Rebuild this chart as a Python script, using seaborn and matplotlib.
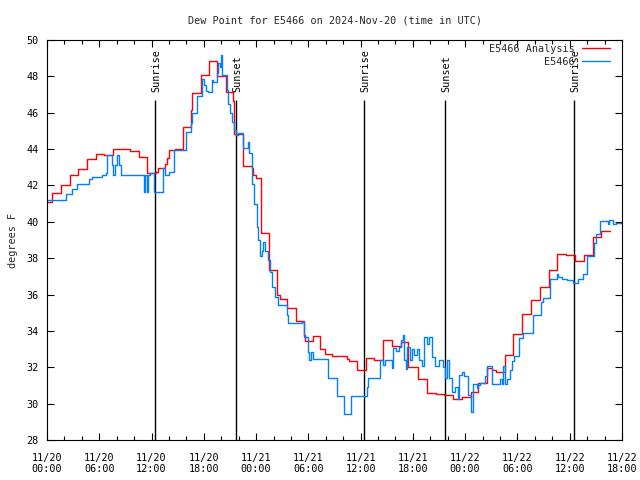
import pandas as pd
import numpy as np
import matplotlib
matplotlib.use("Agg")
from matplotlib import pyplot as plt
import matplotlib.dates as mdates
import seaborn as sb

"""DATA (hours after 2024-11-20 00:00 UTC, dew point in F)"""

analysis_hours = [0.0, 0.61, 1.64, 2.64, 3.59, 4.59, 5.62, 6.58, 7.54, 9.56, 10.56, 11.44,
                  12.55, 12.74, 13.51, 13.77, 14.0, 14.66, 15.58, 16.53, 16.68, 17.64, 18.6,
                  19.51, 20.51, 21.38, 21.52, 22.53, 23.5, 23.7, 23.95, 24.56, 25.52, 26.43,
                  26.75, 27.51, 28.58, 29.5, 29.6, 30.5, 31.34, 31.9, 32.68, 34.4, 34.66,
                  35.62, 36.58, 37.57, 38.6, 39.57, 40.63, 41.47, 42.55, 43.58, 44.62, 45.57,
                  46.57, 47.6, 48.63, 49.51, 50.54, 51.04, 51.54, 52.57, 53.52, 54.56, 55.52,
                  56.59, 57.62, 58.57, 59.57, 60.61, 61.64, 62.71, 63.59, 64.62]
analysis_vals = [41.1, 41.6, 42.0, 42.6, 42.9, 43.45, 43.75, 43.7, 44.0, 43.9, 43.55, 42.7,
                 42.75, 42.95, 43.2, 43.5, 43.95, 44.0, 45.2, 46.15, 47.1, 48.1, 48.86,
                 48.04, 47.16, 46.65, 44.85, 43.05, 42.94, 42.57, 42.39, 39.4, 37.35, 35.97,
                 35.75, 35.24, 34.54, 33.77, 33.44, 33.72, 33.0, 32.75, 32.6, 32.44, 32.34,
                 31.85, 32.49, 32.4, 33.48, 33.15, 33.37, 32.03, 31.35, 30.57, 30.51, 30.47,
                 30.24, 30.38, 30.62, 31.15, 31.94, 31.85, 31.72, 32.66, 33.81, 34.91, 35.7,
                 36.4, 37.33, 38.23, 38.17, 37.83, 38.17, 39.15, 39.48, 39.48]

station_hours = [0.0, 2.22, 2.9, 3.48, 4.82, 5.17, 6.35, 6.74, 6.92, 7.5, 7.61, 7.77, 8.0,
                 8.26, 8.46, 11.13, 11.3, 11.48, 11.65, 11.82, 12.28, 13.31, 13.51, 14.0,
                 14.58, 15.92, 16.53, 16.68, 17.25, 17.76, 18.02, 18.25, 18.51, 18.9, 19.09,
                 19.48, 19.66, 19.86, 19.97, 20.12, 20.63, 20.81, 21.0, 21.2, 21.5, 21.66,
                 21.96, 22.46, 23.11, 23.19, 23.5, 23.76, 24.07, 24.25, 24.45, 24.64, 24.83,
                 25.02, 25.4, 25.6, 25.86, 26.17, 26.55, 27.51, 27.63, 29.24, 29.53, 29.92,
                 30.11, 30.3, 30.5, 32.29, 33.32, 34.09, 34.89, 36.7, 36.88, 38.22, 38.6,
                 38.8, 39.57, 39.75, 40.03, 40.4, 40.63, 40.9, 41.01, 41.17, 41.29, 41.67,
                 41.93, 42.16, 42.43, 42.73, 43.0, 43.27, 43.58, 43.88, 44.15, 44.54, 45.03,
                 45.49, 45.68, 45.88, 46.14, 46.45, 46.83, 47.21, 47.33, 47.6, 47.9, 48.29,
                 48.66, 48.92, 49.31, 49.49, 49.68, 50.25, 50.45, 51.04, 52.0, 52.19, 52.37,
                 52.57, 52.76, 53.14, 53.33, 53.63, 54.2, 54.6, 55.82, 56.7, 56.9, 57.74,
                 58.5, 58.69, 59.08, 59.65, 60.41, 60.98, 61.49, 62.02, 62.82, 63.0, 63.48,
                 64.36, 64.54, 64.93, 65.3, 66.0]
station_vals = [41.22, 41.51, 41.79, 42.06, 42.34, 42.45, 42.57, 42.7, 43.67, 43.1, 42.57,
                43.1, 43.67, 43.1, 42.6, 41.66, 42.6, 41.66, 42.6, 42.7, 41.62, 42.94, 42.6,
                42.75, 43.95, 44.96, 45.43, 45.97, 46.92, 47.85, 47.5, 47.2, 47.16, 47.8,
                47.7, 48.17, 48.72, 48.5, 49.17, 48.1, 47.25, 46.5, 46.0, 45.5, 45.05, 44.77,
                44.9, 44.04, 44.4, 43.77, 42.1, 41.0, 39.73, 39.0, 38.12, 38.4, 38.9, 38.4,
                37.9, 37.26, 36.43, 35.88, 35.42, 34.87, 34.42, 34.5, 33.68, 32.85, 32.4,
                32.85, 32.44, 31.39, 30.42, 29.43, 30.42, 30.93, 31.39, 32.4, 32.1, 32.4,
                31.94, 33.08, 32.9, 33.1, 33.5, 33.77, 32.4, 31.89, 33.1, 32.4, 33.0, 32.7,
                33.0, 32.4, 32.07, 33.65, 33.3, 33.65, 32.58, 32.07, 32.4, 32.0, 31.39, 32.4,
                31.39, 30.66, 30.9, 30.24, 31.57, 31.75, 31.5, 30.47, 29.56, 31.06, 30.84,
                31.0, 31.15, 31.5, 32.07, 31.06, 31.34, 31.06, 32.07, 31.06, 31.34, 31.85,
                32.34, 32.6, 33.63, 33.87, 34.87, 35.59, 35.8, 36.85, 37.13, 36.95, 36.85,
                36.8, 36.61, 36.85, 37.13, 38.12, 38.82, 39.33, 40.06, 39.9, 40.1, 39.88,
                39.95, 39.9]

sun_hours = [12.4, 21.69, 36.39, 45.68, 60.49]
sun_labels = ["Sunrise", "Sunset", "Sunrise", "Sunset", "Sunrise"]

series_names = ["E5466 Analysis", "E5466"]
series_colors = {"E5466 Analysis": "#ff0000", "E5466": "#0080ff"}

"""BUILD TABLE"""

t0 = pd.Timestamp("2024-11-20 00:00")
df_a = pd.DataFrame({"time": t0 + pd.to_timedelta(analysis_hours, unit="h"),
                     "dewpoint": analysis_vals, "series": series_names[0]})
df_s = pd.DataFrame({"time": t0 + pd.to_timedelta(station_hours, unit="h"),
                     "dewpoint": station_vals, "series": series_names[1]})
df = pd.concat([df_a, df_s], ignore_index=True)

"""PLOT"""

sb.set_style("ticks")
plt.rcParams["font.family"] = ["DejaVu Sans Mono", "DejaVu Sans"]
fs = 7.3

fig = plt.figure(figsize=(6.4, 4.8), dpi=100)
ax = fig.add_axes([47 / 640, 40 / 480, 575 / 640, 400 / 480])

sb.lineplot(data=df, x="time", y="dewpoint", hue="series", hue_order=series_names,
            palette=series_colors, estimator=None, drawstyle="steps-post",
            linewidth=1.0, ax=ax)

# sunrise / sunset markers
for h, lab in zip(sun_hours, sun_labels):
    ts = t0 + pd.Timedelta(hours=h)
    ax.vlines(ts, 28, 46.7, color="black", lw=1.0, zorder=1)
    ax.text(ts + pd.Timedelta(minutes=10), 47.15, lab, rotation=90, ha="center",
            va="bottom", fontsize=fs, color="black")

ax.set_xlim(t0, t0 + pd.Timedelta(hours=66))
ax.set_ylim(28, 50)
ax.set_yticks(np.arange(28, 51, 2))

ax.xaxis.set_major_locator(mdates.HourLocator(byhour=[0, 6, 12, 18]))
ax.xaxis.set_minor_locator(mdates.HourLocator(byhour=range(0, 24, 2)))
ax.xaxis.set_major_formatter(mdates.DateFormatter("%m/%d\n%H:%M"))

ax.tick_params(which="both", direction="in", top=True, right=True, labelsize=fs,
               width=0.8, colors="black")
ax.tick_params(which="major", length=5)
ax.tick_params(axis="x", which="major", pad=9)
ax.tick_params(axis="y", which="major", pad=6)
ax.tick_params(which="minor", length=3)
for s in ax.spines.values():
    s.set_color("black")
    s.set_linewidth(0.8)

ax.set_xlabel("")
ax.set_ylabel("degrees F", fontsize=fs, labelpad=6)
ax.set_title("Dew Point for E5466 on 2024-Nov-20 (time in UTC)", fontsize=fs, pad=12)

handles, labels = ax.get_legend_handles_labels()
ax.legend(handles, labels, loc="upper right", bbox_to_anchor=(0.979, 0.99),
          frameon=False, fontsize=fs, markerfirst=False, handlelength=2.8,
          handletextpad=0.7, labelspacing=0.3, borderaxespad=0, borderpad=0)

plt.savefig("out.png", dpi=100)
plt.close()
